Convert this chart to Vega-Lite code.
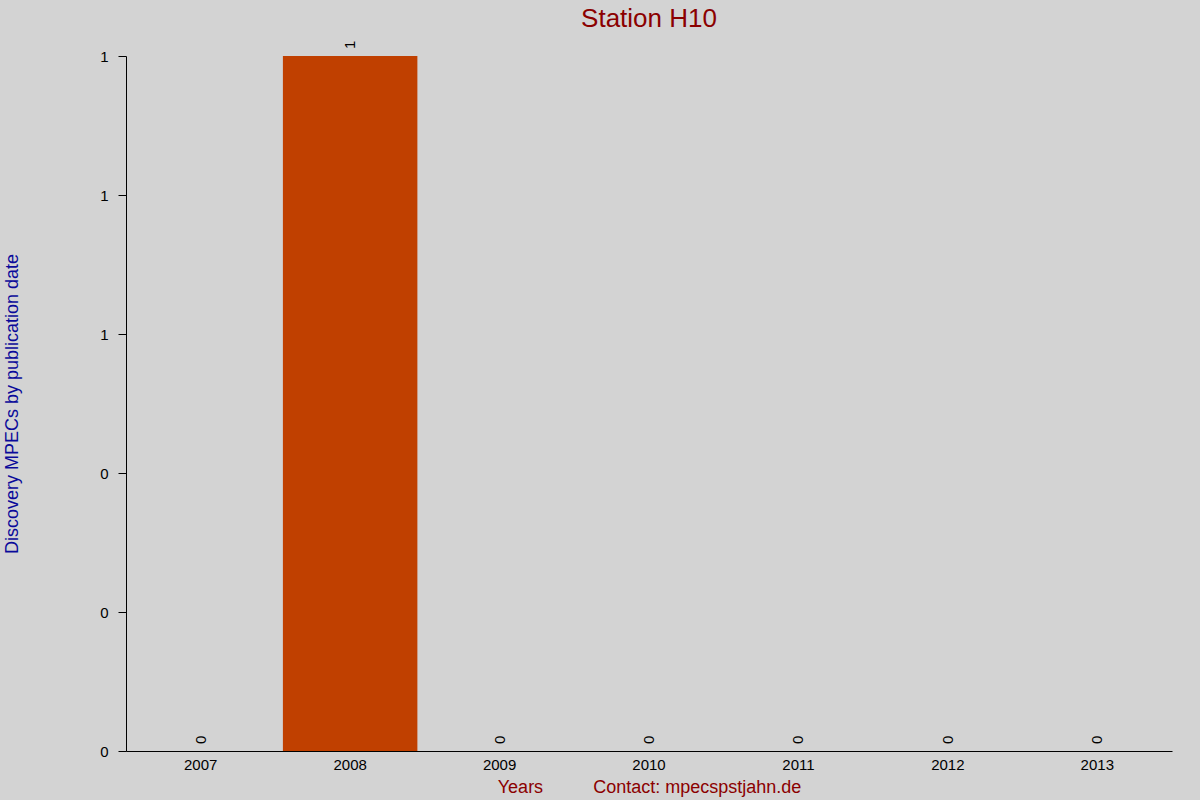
{
  "$schema": "https://vega.github.io/schema/vega-lite/v6.json",
  "width": 1046,
  "height": 695,
  "autosize": {"type": "none"},
  "padding": {"left": 126, "top": 56, "right": 28, "bottom": 49},
  "background": "#d3d3d3",
  "title": {
    "text": "Station H10",
    "font": "Liberation Sans",
    "fontSize": 26,
    "fontWeight": "normal",
    "color": "#8b0000",
    "anchor": "middle",
    "offset": 9
  },
  "config": {
    "view": {"stroke": null},
    "font": "Liberation Sans"
  },
  "data": {
    "values": [
      {"year": "2007", "count": 0},
      {"year": "2008", "count": 1},
      {"year": "2009", "count": 0},
      {"year": "2010", "count": 0},
      {"year": "2011", "count": 0},
      {"year": "2012", "count": 0},
      {"year": "2013", "count": 0}
    ]
  },
  "encoding": {
    "x": {
      "field": "year",
      "type": "ordinal",
      "scale": {"paddingInner": 0.1, "paddingOuter": 0.05},
      "axis": {
        "title": "Years\u00a0\u00a0\u00a0\u00a0\u00a0\u00a0\u00a0\u00a0\u00a0\u00a0Contact: mpecspstjahn.de",
        "titleFont": "Liberation Sans",
        "titleFontSize": 18,
        "titleFontWeight": "normal",
        "titleColor": "#8b0000",
        "titlePadding": 6,
        "labelAngle": 0,
        "labelFont": "Liberation Sans",
        "labelFontSize": 15,
        "labelColor": "#000000",
        "labelPadding": 6,
        "ticks": false,
        "domainColor": "#000000",
        "domainWidth": 1
      }
    },
    "y": {
      "field": "count",
      "type": "quantitative",
      "scale": {"domain": [0, 1], "nice": false},
      "axis": {
        "title": "Discovery MPECs by publication date",
        "titleFont": "Liberation Sans",
        "titleFontSize": 18,
        "titleFontWeight": "normal",
        "titleColor": "#0a0a9a",
        "titlePadding": 78,
        "values": [0, 0.2, 0.4, 0.6, 0.8, 1],
        "format": ".0f",
        "grid": false,
        "labelFont": "Liberation Sans",
        "labelFontSize": 15,
        "labelColor": "#000000",
        "labelPadding": 10,
        "tickSize": 8,
        "tickColor": "#000000",
        "domainColor": "#000000"
      }
    }
  },
  "layer": [
    {
      "mark": {"type": "bar", "color": "#c04000"}
    },
    {
      "mark": {
        "type": "text",
        "angle": 270,
        "align": "left",
        "baseline": "middle",
        "dx": 7,
        "fontSize": 15,
        "font": "Liberation Sans",
        "color": "#000000"
      },
      "encoding": {"text": {"field": "count", "type": "quantitative"}}
    }
  ]
}
